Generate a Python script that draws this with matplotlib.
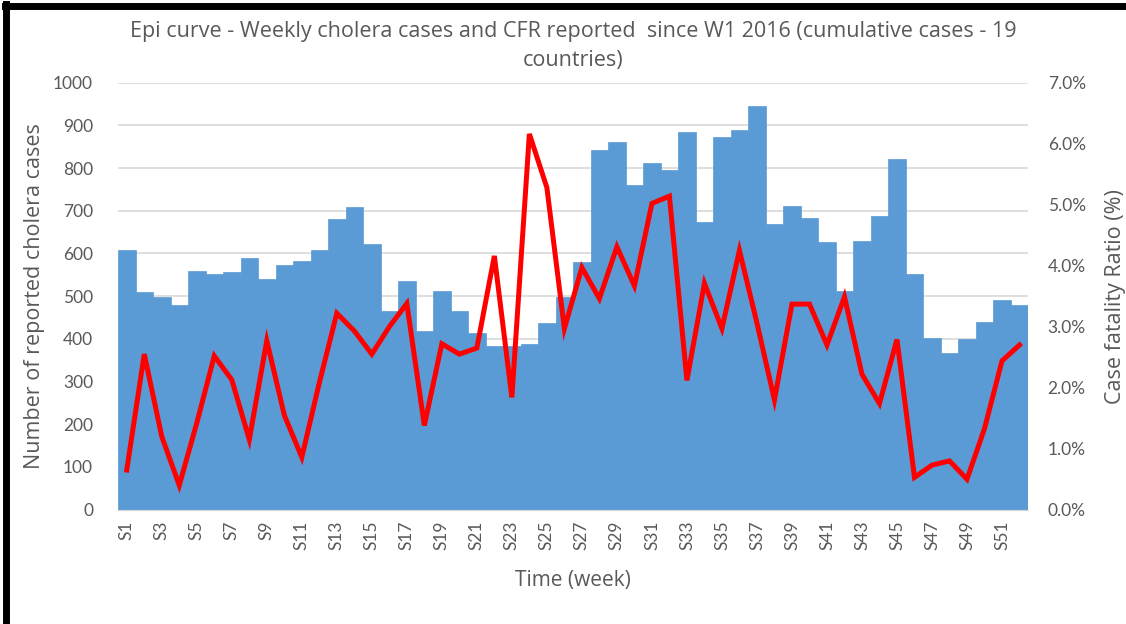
# -*- coding: utf-8 -*-

import matplotlib
matplotlib.use("Agg")
import matplotlib.pyplot as plt
import numpy as np

weeks = ["S{}".format(i) for i in range(1, 53)]

cases = [608, 509, 499, 479, 560, 552, 556, 590, 540, 573,
         583, 608, 681, 709, 622, 466, 535, 418, 513, 466,
         413, 384, 384, 388, 437, 499, 579, 843, 860, 760,
         812, 796, 885, 674, 872, 890, 946, 669, 712, 682,
         627, 513, 630, 687, 821, 552, 402, 367, 399, 440,
         491, 479]

cfr = [0.65, 2.55, 1.20, 0.40, 1.42, 2.52, 2.13, 1.15, 2.77, 1.55,
       0.86, 2.08, 3.22, 2.93, 2.55, 3.00, 3.38, 1.38, 2.72, 2.55,
       2.65, 4.16, 1.84, 6.16, 5.28, 2.97, 3.97, 3.46, 4.31, 3.67,
       5.02, 5.14, 2.12, 3.71, 2.97, 4.25, 3.06, 1.80, 3.37, 3.37,
       2.70, 3.49, 2.22, 1.74, 2.79, 0.53, 0.73, 0.80, 0.50, 1.33,
       2.44, 2.70]

title = ("Epi curve - Weekly cholera cases and CFR reported  since W1 2016 "
         "(cumulative cases - 19\ncountries)")

plt.rcParams['font.family'] = ['Lato', 'DejaVu Sans']
grey = '#595959'
label_font = ['Open Sans', 'DejaVu Sans']

fig = plt.figure(figsize=(11.26, 6.24), dpi=100)
ax = fig.add_axes([0.1048, 0.1832, 0.8084, 0.6843])
ax2 = ax.twinx()

x = np.arange(len(weeks))
ax.bar(x, cases, width=1.0, color='#5B9BD5', edgecolor='#5B9BD5',
       linewidth=0.5, zorder=2)
ax2.plot(x, cfr, color='#FF0000', linewidth=3.6, solid_joinstyle='miter',
         zorder=3)

ax.set_xlim(-0.5, len(weeks) - 0.5)
ax.set_ylim(0, 1000)
ax.set_yticks(np.arange(0, 1001, 100))
ax2.set_ylim(0, 7)
ax2.set_yticks(np.arange(0, 7.01, 1))
ax2.set_yticklabels(["{:.1f}%".format(v) for v in np.arange(0, 7.01, 1)])

ax.set_xticks(x[::2])
ax.set_xticklabels(weeks[::2], rotation=90)

ax.grid(axis='y', color='#D9D9D9', linewidth=1.2, zorder=0)
ax.set_axisbelow(True)

for a in (ax, ax2):
    for s in a.spines.values():
        s.set_visible(False)
    a.tick_params(length=0, colors=grey, labelsize=12.5)
ax.spines['bottom'].set_visible(True)
ax.spines['bottom'].set_color('#D9D9D9')
ax.tick_params(axis='y', pad=18)
ax.tick_params(axis='x', pad=8)
ax2.tick_params(axis='y', pad=14)

ax.set_ylabel("Number of reported cholera cases", color=grey, fontsize=15.5,
              family=label_font, labelpad=6)
ax2.set_ylabel("Case fatality Ratio (%)", color=grey, fontsize=15.5,
               family=label_font, labelpad=14)
ax.set_xlabel("Time (week)", color=grey, fontsize=15, family=label_font,
              labelpad=14)

fig.text(0.509, 0.926, title, ha='center', va='center', color=grey,
         fontsize=15.5, family=label_font, linespacing=1.5)

# black frame on top and left edge
fig.add_artist(plt.Line2D([0.004, 1.0], [0.990, 0.990], color='black',
                          linewidth=5, transform=fig.transFigure))
fig.add_artist(plt.Line2D([0.0053, 0.0053], [0.0, 0.993], color='black',
                          linewidth=5, transform=fig.transFigure))

fig.savefig("out.png", dpi=100)
